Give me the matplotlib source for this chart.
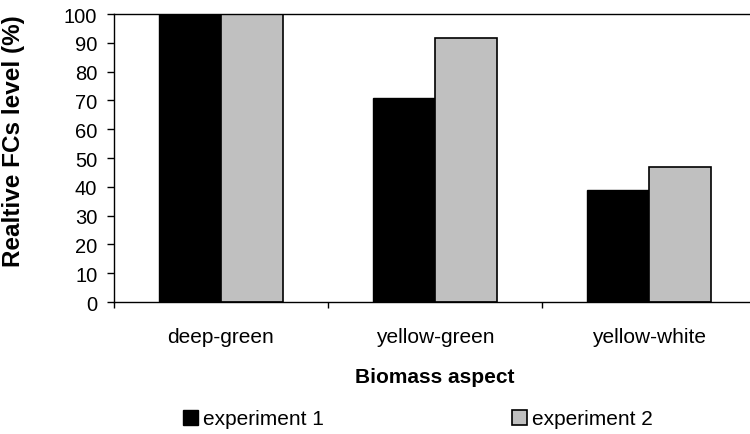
import matplotlib
matplotlib.use("Agg")
import matplotlib.pyplot as plt
import numpy as np

plt.rcParams['font.family'] = ['Liberation Sans', 'DejaVu Sans']

# FCs level per biomass aspect, two experiments
aspects = ["deep-green", "yellow-green", "yellow-white"]
exp1 = [100, 71, 39]
exp2 = [100, 91.5, 47]
series_names = ["experiment 1", "experiment 2"]
y_ticks = list(range(0, 101, 10))

fig = plt.figure(figsize=(7.5, 4.35), dpi=100)
ax = fig.add_axes([0.152, 0.3034, 0.856, 0.6621])

x = np.arange(len(aspects))
w = 0.29
ax.bar(x - w / 2, exp1, w, color="black", edgecolor="black", linewidth=1,
       label=series_names[0], zorder=2)
ax.bar(x + w / 2, exp2, w, color="#c0c0c0", edgecolor="black", linewidth=1.2,
       label=series_names[1], zorder=2)

ax.set_xlim(-0.5, 2.5)
ax.set_ylim(0, 100)
ax.set_yticks(y_ticks)
ax.tick_params(axis="y", direction="out", length=5, width=1, pad=7, labelsize=14.5)

ax.set_xticks(x)
ax.set_xticklabels(aspects)
ax.set_xticks(np.arange(-0.5, 3.0, 1.0), minor=True)
ax.tick_params(axis="x", which="major", length=0, pad=18, labelsize=15)
ax.tick_params(axis="x", which="minor", direction="out", length=4.5, width=1)

for side in ["left", "bottom", "top"]:
    ax.spines[side].set_linewidth(1)
    ax.spines[side].set_color("black")
ax.spines["right"].set_visible(False)

ax.set_ylabel("Realtive FCs level (%)", fontsize=17.5, fontweight="bold")
ax.yaxis.set_label_coords(-0.139, 0.561)
ax.set_xlabel("Biomass aspect", fontsize=15, fontweight="bold", labelpad=15)

fig.legend(loc="center left", bbox_to_anchor=(183 / 750, 1 - 420 / 435),
           ncol=2, frameon=False, fontsize=15, borderpad=0, borderaxespad=0,
           handlelength=0.72, handleheight=0.72, handletextpad=0.25,
           columnspacing=9.0)

fig.savefig("out.png", dpi=100)
